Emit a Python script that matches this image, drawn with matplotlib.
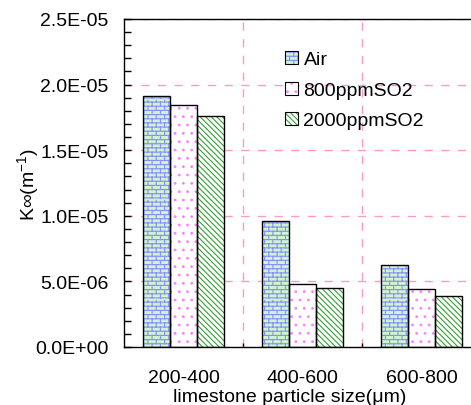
import warnings
warnings.filterwarnings("ignore")
import numpy as np
import matplotlib
matplotlib.use("Agg")
import matplotlib.pyplot as plt
from matplotlib.patches import Patch
from matplotlib.legend_handler import HandlerTuple
from matplotlib.ticker import FuncFormatter, MultipleLocator, FixedLocator
import matplotlib.hatch as mhatch
from matplotlib.path import Path

# ---- custom brick hatch ('b') ----
class BrickHatch(mhatch.HatchPatternBase):
    def __init__(self, hatch, density):
        n = hatch.count('b')
        self.rows = int(n * density)
        self.cols = max(1, self.rows // 2)
        self.num_lines = (self.rows + self.rows * self.cols) if n else 0
        self.num_vertices = self.num_lines * 2

    def set_vertices_and_codes(self, vertices, codes):
        R, C = self.rows, self.cols
        dy = 1.0 / R
        dx = 1.0 / C
        k = 0
        for i in range(R):
            y = i * dy + dy / 2
            vertices[k] = (0, y); vertices[k + 1] = (1, y); k += 2
        for i in range(R):
            y0 = i * dy + dy / 2
            y1 = y0 + dy
            off = 0 if i % 2 == 0 else dx / 2
            for j in range(C):
                x = j * dx + off + dx / 4
                vertices[k] = (x, y0); vertices[k + 1] = (x, y1); k += 2
        codes[0::2] = Path.MOVETO
        codes[1::2] = Path.LINETO

mhatch._hatch_types.append(BrickHatch)

plt.rcParams['font.family'] = ['Liberation Sans', 'DejaVu Sans']
plt.rcParams['mathtext.fontset'] = 'custom'
plt.rcParams['mathtext.rm'] = 'Liberation Sans'
plt.rcParams['mathtext.it'] = 'Liberation Sans:italic'
plt.rcParams['hatch.linewidth'] = 0.8

# ---- data ----
categories = ["200-400", "400-600", "600-800"]
series_names = ["Air", "800ppmSO2", "2000ppmSO2"]
air = [1.915e-05, 9.62e-06, 6.26e-06]
so2_800 = [1.847e-05, 4.81e-06, 4.43e-06]
so2_2000 = [1.763e-05, 4.50e-06, 3.90e-06]
values = [air, so2_800, so2_2000]

faces = ['#ccf5cc', '#ffffff', '#ffffff']
hatch_colors = ['#8c8cff', '#ff80ff', '#33a033']
hatches = ['bbbb', '..', '\\\\\\\\\\\\']

W, H = 471, 406
dpi = 100
fig = plt.figure(figsize=(W / dpi, H / dpi), dpi=dpi)
ax_left, ax_right, ax_top, ax_bottom = 124, 481, 20, 348
ax = fig.add_axes([ax_left / W, 1 - ax_bottom / H, (ax_right - ax_left) / W, (ax_bottom - ax_top) / H])

x = np.arange(len(categories))
bw = 0.227
handles = []
for i, (vals, fc, hc, ht) in enumerate(zip(values, faces, hatch_colors, hatches)):
    pos = x + (i - 1) * bw
    ax.bar(pos, vals, bw, color=fc, edgecolor=hc, hatch=ht, linewidth=0, zorder=2)
    ax.bar(pos, vals, bw, color='none', edgecolor='black', linewidth=1.0, zorder=3)
    h1 = Patch(facecolor=fc, edgecolor=hc, hatch=ht, linewidth=0)
    h2 = Patch(facecolor='none', edgecolor='black', linewidth=0.8)
    handles.append((h1, h2))

ax.set_xlim(-0.5, 2.5)
ax.set_ylim(0, 2.5e-05)

ax.yaxis.set_major_locator(MultipleLocator(5e-06))
ax.yaxis.set_minor_locator(MultipleLocator(1e-06))
ax.yaxis.set_major_formatter(FuncFormatter(lambda v, p: f"{v:.1E}"))
ax.set_xticks(x)
ax.set_xticklabels(categories)
ax.xaxis.set_minor_locator(FixedLocator([0.5, 1.5]))

ax.tick_params(axis='y', which='both', direction='in', length=5, width=1, labelsize=14, pad=11)
ax.tick_params(axis='x', which='major', direction='in', length=3, width=1, labelsize=14, pad=16)
ax.tick_params(axis='x', which='minor', direction='in', length=3, width=1)
ax.tick_params(top=False, right=False)

ax.grid(axis='y', which='major', color='#ff99cc', linestyle=(0, (6, 6)), linewidth=1, zorder=0)
for gx in [0.5, 1.5]:
    ax.axvline(gx, color='#ff99cc', linestyle=(0, (6, 6)), linewidth=1, zorder=0)
ax.set_axisbelow(True)

for s in ['left', 'bottom', 'top']:
    ax.spines[s].set_linewidth(1.0)
    ax.spines[s].set_color('black')

fig.text(28 / W, 1 - 184 / H, 'K\u221e(m$\\mathregular{^{-1}}$)', rotation=90,
         ha='center', va='center', fontsize=14)
fig.text(290 / W, 1 - 398 / H, 'limestone particle size(\u03bcm)', ha='center', va='center', fontsize=14)

leg = ax.legend(handles, series_names, handler_map={tuple: HandlerTuple(ndivide=1)},
                loc='upper left', bbox_to_anchor=(285 / W, 1 - 52 / H), bbox_transform=fig.transFigure,
                frameon=False, fontsize=14, handlelength=0.65, handleheight=0.65,
                handletextpad=0.3, labelspacing=0.68, borderaxespad=0, borderpad=0)

fig.savefig('out.png', dpi=dpi)
